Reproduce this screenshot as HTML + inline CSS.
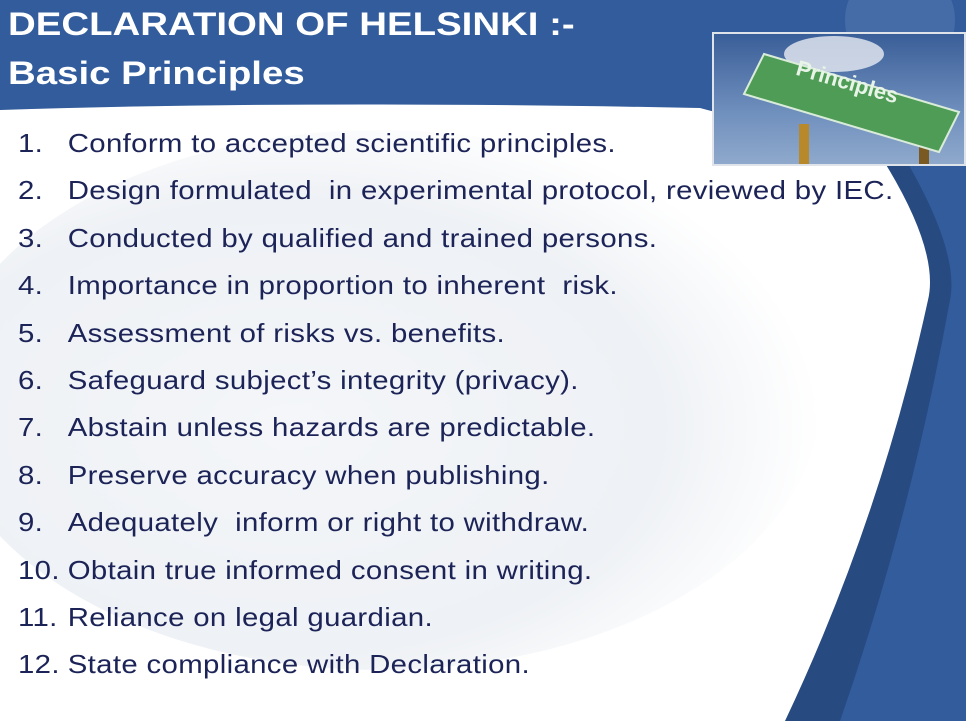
<!DOCTYPE html>
<html><head><meta charset="utf-8"><style>
body{margin:0;width:966px;height:721px;overflow:hidden;position:relative;font-family:"Liberation Sans",sans-serif;background:#fff}
svg.bg{position:absolute;left:0;top:0}
.title{position:absolute;left:8px;top:0px;color:#fff;font-weight:bold;font-size:32px;line-height:49px;transform:scaleX(1.2);transform-origin:0 0;white-space:nowrap}
ol{position:absolute;left:18px;top:121px;margin:0;padding:0;list-style:none;color:#1c2457;font-size:26px;letter-spacing:0.3px;transform:scaleX(1.13);transform-origin:0 0}
li{height:47.4px;line-height:44px;white-space:nowrap}
li span{display:inline-block;width:44px}
.pic{position:absolute;left:712px;top:32px;width:254px;height:134px;border:2px solid #dfe3ea;box-sizing:border-box;overflow:hidden;background:linear-gradient(#3a5e98,#6f8fbd 60%,#8fa9cc)}
</style></head><body>
<svg class="bg" width="966" height="721">
<defs><radialGradient id="g" cx="0.4" cy="0.55" r="0.6"><stop offset="0" stop-color="#f4f6f9"/><stop offset="0.7" stop-color="#eef1f5"/><stop offset="1" stop-color="#ffffff"/></radialGradient></defs>
<rect width="966" height="721" fill="#325c9c"/>
<path d="M0 110 Q300 100 700 108 L900 150 Q960 250 950 300 Q910 520 840 721 L0 721Z" fill="#274a80"/>
<path d="M0 110 Q300 100 700 108 L880 155 Q940 250 928 300 Q880 520 785 721 L0 721Z" fill="#fff"/>
<ellipse cx="380" cy="400" rx="440" ry="270" fill="url(#g)"/>
<circle cx="900" cy="20" r="55" fill="#4f74ad" opacity="0.7"/>
</svg>
<div class="title">DECLARATION OF HELSINKI :-<br>Basic Principles</div>
<div class="pic">
<svg width="254" height="134"><ellipse cx="120" cy="20" rx="50" ry="18" fill="#e8ecf2" opacity="0.8"/><rect x="85" y="90" width="10" height="50" fill="#b8892a"/><rect x="205" y="100" width="10" height="40" fill="#7a5a20"/><polygon points="30,60 50,20 245,78 225,118" fill="#4e9c55" stroke="#d9ecd9" stroke-width="2"/><text x="75" y="58" transform="rotate(16 140 70)" fill="#e8f4e8" font-size="22" font-weight="bold" font-family="Liberation Sans,sans-serif">Principles</text></svg>
</div>
<ol>
<li><span>1.</span>Conform to accepted scientific principles.</li>
<li><span>2.</span>Design formulated&nbsp; in experimental protocol, reviewed by IEC.</li>
<li><span>3.</span>Conducted by qualified and trained persons.</li>
<li><span>4.</span>Importance in proportion to inherent&nbsp; risk.</li>
<li><span>5.</span>Assessment of risks vs. benefits.</li>
<li><span>6.</span>Safeguard subject’s integrity (privacy).</li>
<li><span>7.</span>Abstain unless hazards are predictable.</li>
<li><span>8.</span>Preserve accuracy when publishing.</li>
<li><span>9.</span>Adequately&nbsp; inform or right to withdraw.</li>
<li><span>10.</span>Obtain true informed consent in writing.</li>
<li><span>11.</span>Reliance on legal guardian.</li>
<li><span>12.</span>State compliance with Declaration.</li>
</ol>
</body></html>
